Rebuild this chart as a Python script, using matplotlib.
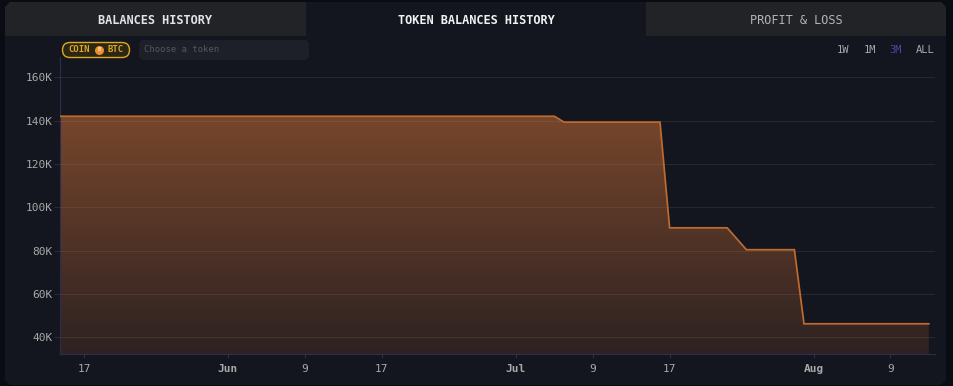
import pandas as pd
import numpy as np
import matplotlib
matplotlib.use("Agg")
import matplotlib.pyplot as plt
import matplotlib.dates as mdates
from matplotlib.patches import Polygon, FancyBboxPatch

plt.rcParams["font.family"] = ["DejaVu Sans Mono"]

# knots of the balance line (flat between them)
dates = ["2024-05-14 14:00", "2024-07-05 00:00", "2024-07-06 00:00", "2024-07-16 00:00", "2024-07-17 00:00",
         "2024-07-23 00:00", "2024-07-25 00:00", "2024-07-30 00:00", "2024-07-31 00:00", "2024-08-13 00:00"]
balance = [142000, 142000, 139300, 139300, 90500, 90500, 80400, 80400, 46200, 46200]

y_ticks = [40000, 60000, 80000, 100000, 120000, 140000, 160000]
y_labels = ["40K", "60K", "80K", "100K", "120K", "140K", "160K"]
x_ticks = ["2024-05-17", "2024-06-01", "2024-06-09", "2024-06-17", "2024-07-01",
           "2024-07-09", "2024-07-17", "2024-08-01", "2024-08-09"]
x_labels = ["17", "Jun", "9", "17", "Jul", "9", "17", "Aug", "9"]
tabs = ["BALANCES HISTORY", "TOKEN BALANCES HISTORY", "PROFIT & LOSS"]
ranges = ["1W", "1M", "3M", "ALL"]

W, H = 954, 386
BG = "#0a0c13"
CARD = "#13161f"
TAB = "#222327"
GRID = "#2a2b31"
AXIS = "#2b2d52"
TXT = "#a9a9a9"
LINE = "#c06a2e"

fig = plt.figure(figsize=(W / 100, H / 100), dpi=100, facecolor=BG)

# page chrome in pixel coordinates
bg = fig.add_axes([0, 0, 1, 1])
bg.set_xlim(0, W)
bg.set_ylim(H, 0)
bg.axis("off")
bg.add_patch(Polygon([(10, 2), (941, 2), (946, 7), (946, 380), (941, 385), (10, 385), (5, 380), (5, 7)],
                     fc=CARD, ec="none"))
bg.add_patch(Polygon([(10, 2), (306, 2), (306, 36), (5, 36), (5, 7)], fc=TAB, ec="none"))
bg.add_patch(Polygon([(646, 2), (941, 2), (946, 7), (946, 36), (646, 36)], fc=TAB, ec="none"))

bg.text(155.5, 20, tabs[0], color="#e4e4e4", fontsize=8.6, fontweight="bold", ha="center", va="center")
bg.text(476, 20, tabs[1], color="#f2f2f2", fontsize=8.6, fontweight="bold", ha="center", va="center")
bg.text(796, 20, tabs[2], color="#b4b4b4", fontsize=8.6, ha="center", va="center")

bg.add_patch(FancyBboxPatch((62.5, 42.5), 67, 15, boxstyle="round,pad=0,rounding_size=7.5", fc="#2b2717",
                            ec="#e0a81e", lw=1))
bg.text(68.5, 50, "COIN", color="#e0a81e", fontsize=6.5, fontweight="bold", ha="left", va="center")
bg.plot([99], [49.5], "o", ms=6.5, color="#f0902a", mec="none")
bg.text(99, 49.7, "B", color="#f8dcb8", fontsize=4, fontweight="bold", ha="center", va="center")
bg.text(107.5, 50, "BTC", color="#e0a81e", fontsize=6.5, fontweight="bold", ha="left", va="center")
bg.add_patch(FancyBboxPatch((139, 40), 170, 20, boxstyle="round,pad=0,rounding_size=5", fc="#1d2028", ec="none"))
bg.text(144, 50, "Choose a token", color="#55575c", fontsize=6.4, ha="left", va="center")

for label, x in zip(ranges, [843, 869.5, 896, 925.5]):
    col = "#5a3fa0" if label == "3M" else TXT
    bg.text(x, 50, label, color=col, fontsize=7.5, ha="center", va="center")

# chart
ax = fig.add_axes([60.5 / W, 1 - 354 / H, (935 - 60.5) / W, (354 - 56.7) / H])
ax.patch.set_alpha(0)

x = mdates.date2num(pd.to_datetime(dates))
x_tick_pos = mdates.date2num(pd.to_datetime(x_ticks))
x0 = x_tick_pos[0] - (84 - 60.5) / 9.6
x1 = x0 + (935 - 60.5) / 9.6
ylo, yhi = 32250, 169500
ax.set_xlim(x0, x1)
ax.set_ylim(ylo, yhi)

grad = np.linspace(0, 1, 256)[:, None, None]
top = np.array([0x76, 0x46, 0x2b]) / 255
bot = np.array([0x2e, 0x22, 0x22]) / 255
img = ax.imshow(bot + (top - bot) * grad, origin="lower", aspect="auto",
                extent=[x0, x1, ylo, max(balance)], zorder=1)
area = Polygon(list(zip(x, balance)) + [(x[-1], ylo), (x[0], ylo)], closed=True, transform=ax.transData,
               fc="none", ec="none")
ax.add_patch(area)
img.set_clip_path(area)
ax.set_xlim(x0, x1)
ax.set_ylim(ylo, yhi)

ax.plot(x, balance, color=LINE, lw=1.25, zorder=3, solid_joinstyle="miter")

ax.set_yticks(y_ticks)
ax.set_yticklabels(y_labels)
ax.set_xticks(x_tick_pos)
ax.set_xticklabels(x_labels)
for lab, name in zip(ax.get_xticklabels(), x_labels):
    if not name.isdigit():
        lab.set_fontweight("bold")
ax.grid(axis="y", color="#aaa08c", alpha=0.13, lw=0.8, zorder=2)
ax.set_axisbelow(False)
ax.tick_params(axis="y", length=4, width=0.8, color=GRID, labelcolor=TXT, labelsize=8, pad=1.5)
ax.tick_params(axis="x", length=3, width=0.8, color=AXIS, labelcolor=TXT, labelsize=8, pad=4)
for s in ["top", "right"]:
    ax.spines[s].set_visible(False)
for s in ["left", "bottom"]:
    ax.spines[s].set_color(AXIS)
    ax.spines[s].set_linewidth(0.8)

fig.savefig("out.png", dpi=100, facecolor=BG)
